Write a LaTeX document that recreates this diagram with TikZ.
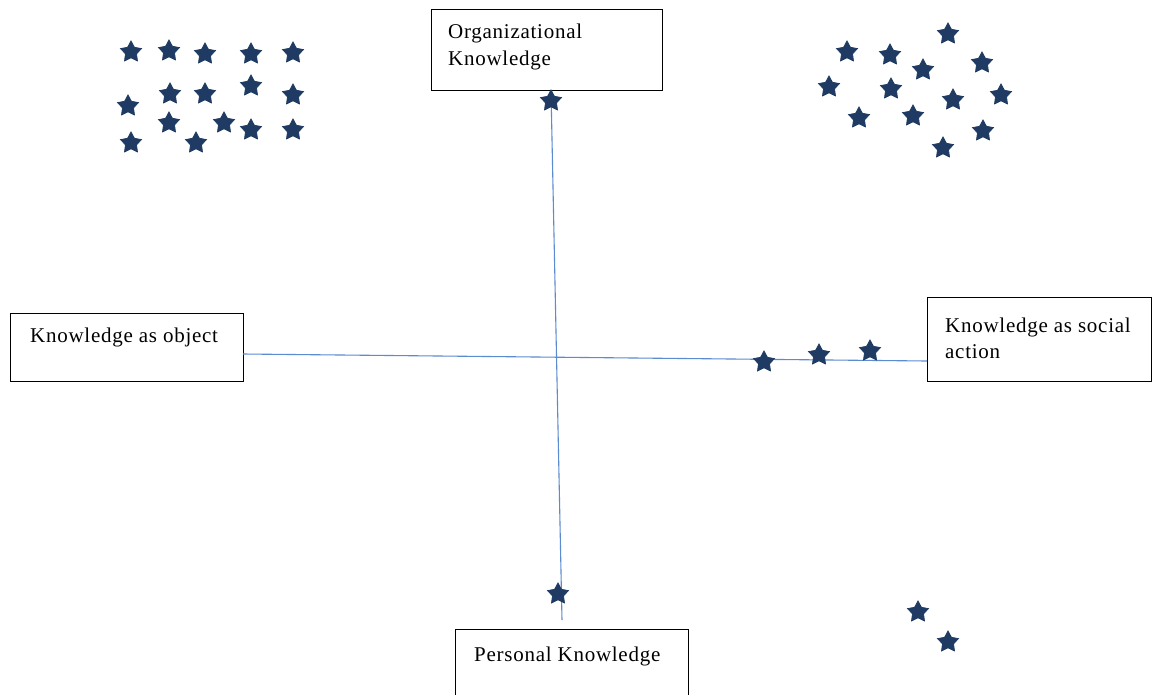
\documentclass[tikz,border=0pt]{standalone}
\usepackage{fontspec}
\setmainfont{Liberation Serif}
\newfontfamily\wideserif[LetterSpace=3.5]{Liberation Serif}
\usetikzlibrary{shapes.geometric}
\definecolor{navy}{HTML}{1F3B63}
\definecolor{axis}{HTML}{5B8BD0}
\tikzset{
  st/.style={star, star points=5, star point ratio=1.9, minimum size=22pt, inner sep=0pt, fill=navy, draw=navy, line width=0.8pt},
  boxx/.style={draw=black, line width=1.1pt, inner sep=0pt, anchor=north west},
  lbl/.style={anchor=base west, inner sep=0pt, font=\wideserif\fontsize{21}{27}\selectfont},
  ax/.style={draw=axis, line width=1.1pt}
}
\begin{document}
\begin{tikzpicture}[x=1pt,y=-1pt]
\useasboundingbox (0,0) rectangle (1154,694);
% boxes
\node[boxx, minimum width=231pt, minimum height=81pt] (org) at (431,9) {};
\node[boxx, minimum width=233pt, minimum height=68pt] (obj) at (10,313) {};
\node[boxx, minimum width=224pt, minimum height=84pt] (soc) at (927,297) {};
\node[boxx, minimum width=233pt, minimum height=80pt] (per) at (455,629) {};
% labels
\node[lbl] (orgt1) at (448,38) {Organizational};
\node[lbl] (orgt2) at (448,65) {Knowledge};
\node[lbl] (objt) at (30,342) {Knowledge as object};
\node[lbl] (soct1) at (945,332) {Knowledge as social};
\node[lbl] (soct2) at (945,358) {action};
\node[lbl] (pert) at (474,661) {Personal Knowledge};
% axes
\coordinate (vt) at (551,91);
\coordinate (vb) at (562,620);
\coordinate (hl) at (243,354);
\coordinate (hr) at (927,361);
\draw[ax] (vt) -- (vb);
\draw[ax] (hl) -- (hr);
% axis stars
\node[st] (a1) at (551,101) {};
\node[st] (a2) at (764,362) {};
\node[st] (a3) at (819,355) {};
\node[st] (a4) at (870,351) {};
\node[st] (a5) at (558,594) {};
% top-left cluster
\node[st] (l1) at (131,52) {};
\node[st] (l2) at (169,51) {};
\node[st] (l3) at (205,54) {};
\node[st] (l4) at (251,54) {};
\node[st] (l5) at (293,53) {};
\node[st] (l6) at (128,106) {};
\node[st] (l7) at (170,94) {};
\node[st] (l8) at (205,94) {};
\node[st] (l9) at (251,86) {};
\node[st] (l10) at (293,95) {};
\node[st] (l11) at (169,123) {};
\node[st] (l12) at (224,123) {};
\node[st] (l13) at (251,130) {};
\node[st] (l14) at (293,130) {};
\node[st] (l15) at (131,143) {};
\node[st] (l16) at (196,143) {};
% top-right cluster
\node[st] (r1) at (948,34) {};
\node[st] (r2) at (847,52) {};
\node[st] (r3) at (890,55) {};
\node[st] (r4) at (923,70) {};
\node[st] (r5) at (982,63) {};
\node[st] (r6) at (829,87) {};
\node[st] (r7) at (891,89) {};
\node[st] (r8) at (953,100) {};
\node[st] (r9) at (1001,95) {};
\node[st] (r10) at (859,118) {};
\node[st] (r11) at (913,116) {};
\node[st] (r12) at (983,131) {};
\node[st] (r13) at (943,148) {};
% bottom-right
\node[st] (b1) at (918,612) {};
\node[st] (b2) at (948,642) {};
\end{tikzpicture}
\end{document}
